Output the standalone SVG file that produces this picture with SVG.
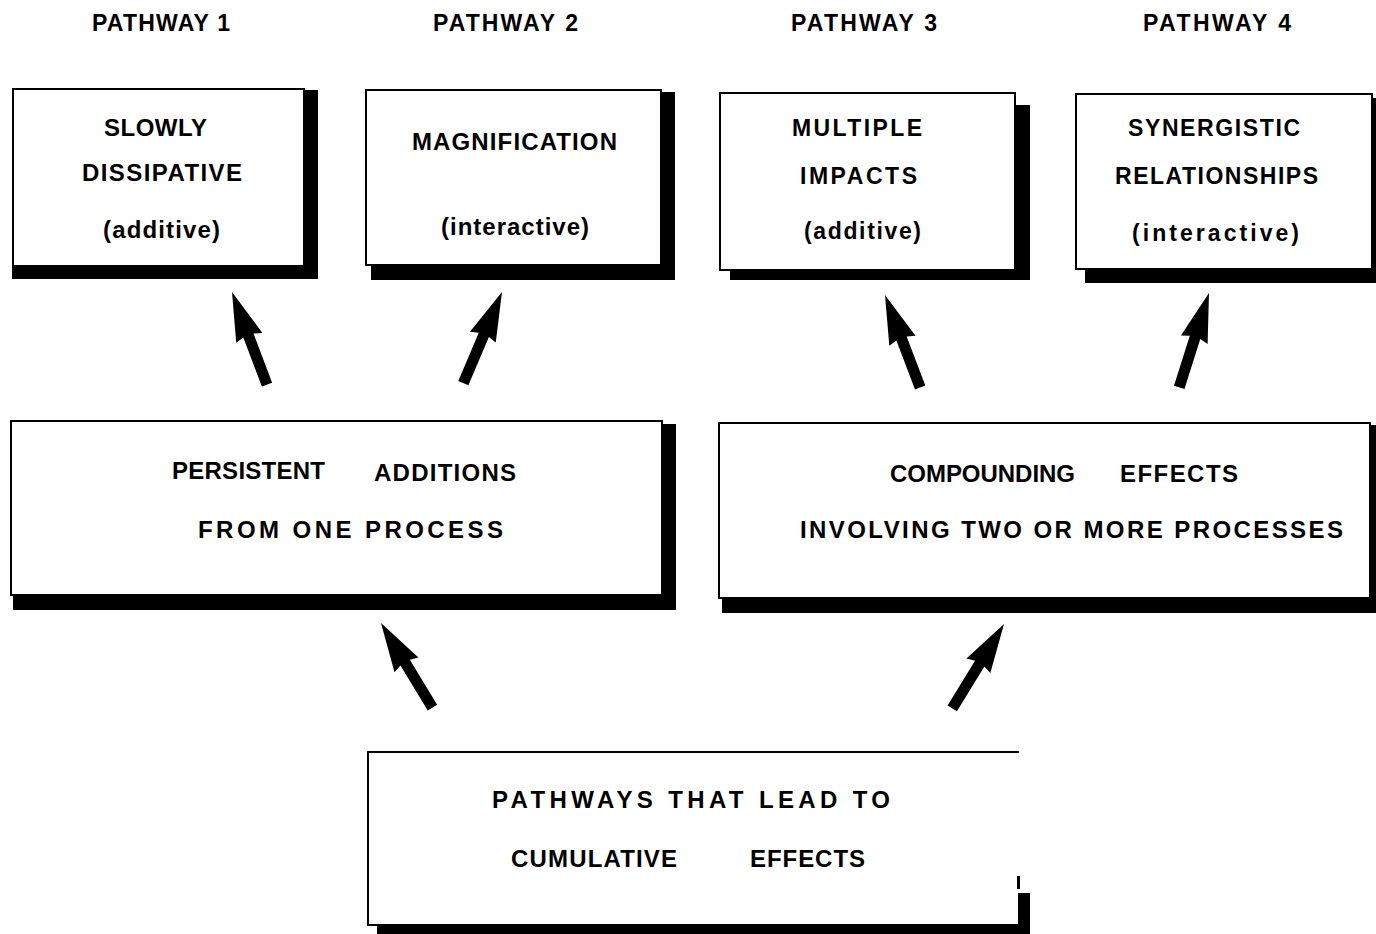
<svg xmlns="http://www.w3.org/2000/svg" xmlns:xlink="http://www.w3.org/1999/xlink" width="1376" height="934" viewBox="0 0 1376 934">
<style>
.t{font-family:"Liberation Sans",Arial,Helvetica,sans-serif;font-weight:bold;font-size:24px;fill:#000}
.h{font-size:23px}
.s{font-size:23px}
.box{fill:#fff;stroke:#000;stroke-width:2}
.sh{fill:#000}
.arr{fill:#000}
</style>
<defs>
<path id="arrow" d="M0,0 L14,49 L5.5,46.5 L5.5,99 L-5.5,99 L-5.5,46.5 L-14,49 Z"/>
</defs>
<rect width="1376" height="934" fill="#fff"/>

<g id="headers">
<text class="t h" x="92" y="31" textLength="138" lengthAdjust="spacing">PATHWAY 1</text>
<text class="t h" x="433" y="31" textLength="145" lengthAdjust="spacing">PATHWAY 2</text>
<text class="t h" x="791" y="31" textLength="146" lengthAdjust="spacing">PATHWAY 3</text>
<text class="t h" x="1143" y="31" textLength="148" lengthAdjust="spacing">PATHWAY 4</text>
</g>

<g id="slowly-dissipative">
<rect class="sh" x="12" y="90" width="306" height="189"/>
<rect class="box" x="13" y="89" width="291" height="177"/>
<text class="t" x="104" y="136" textLength="103" lengthAdjust="spacing">SLOWLY</text>
<text class="t" x="82" y="181" textLength="160" lengthAdjust="spacing">DISSIPATIVE</text>
<text class="t" x="103" y="238" textLength="117" lengthAdjust="spacing">(additive)</text>
</g>

<g id="magnification">
<rect class="sh" x="371" y="92" width="304" height="188"/>
<rect class="box" x="366" y="90" width="295" height="175"/>
<text class="t" x="412" y="150" textLength="205" lengthAdjust="spacing">MAGNIFICATION</text>
<text class="t" x="441" y="235" textLength="148" lengthAdjust="spacing">(interactive)</text>
</g>

<g id="multiple-impacts">
<rect class="sh" x="730" y="105" width="300" height="175"/>
<rect class="box" x="720" y="93" width="295" height="177"/>
<text class="t s" x="792" y="136" textLength="130" lengthAdjust="spacing">MULTIPLE</text>
<text class="t s" x="800" y="184" textLength="117" lengthAdjust="spacing">IMPACTS</text>
<text class="t s" x="804" y="239" textLength="117" lengthAdjust="spacing">(additive)</text>
</g>

<g id="synergistic-relationships">
<rect class="sh" x="1085" y="98" width="295" height="185"/>
<rect class="box" x="1076" y="94" width="296" height="175"/>
<text class="t s" x="1128" y="136" textLength="172" lengthAdjust="spacing">SYNERGISTIC</text>
<text class="t s" x="1115" y="184" textLength="203" lengthAdjust="spacing">RELATIONSHIPS</text>
<text class="t s" x="1132" y="241" textLength="167" lengthAdjust="spacing">(interactive)</text>
</g>

<g id="persistent-additions">
<rect class="sh" x="13" y="424" width="663" height="186"/>
<rect class="box" x="11" y="421" width="651" height="174"/>
<text class="t" x="172" y="479" textLength="153" lengthAdjust="spacing">PERSISTENT</text>
<text class="t" x="374" y="481" textLength="142" lengthAdjust="spacing">ADDITIONS</text>
<text class="t" x="198" y="538" textLength="305" lengthAdjust="spacing">FROM ONE PROCESS</text>
</g>

<g id="compounding-effects">
<rect class="sh" x="722" y="425" width="660" height="188"/>
<rect class="box" x="719" y="423" width="651" height="175"/>
<text class="t" x="890" y="482" textLength="185" lengthAdjust="spacing">COMPOUNDING</text>
<text class="t" x="1120" y="482" textLength="118" lengthAdjust="spacing">EFFECTS</text>
<text class="t" x="800" y="538" textLength="543" lengthAdjust="spacing">INVOLVING TWO OR MORE PROCESSES</text>
</g>

<g id="cumulative-effects">
<rect x="368" y="752" width="651" height="173" fill="#fff"/>
<path d="M1019,752 H368 V925 H1019" fill="none" stroke="#000" stroke-width="2"/>
<rect class="sh" x="377" y="925" width="653" height="9"/>
<rect class="sh" x="1018" y="893" width="12" height="41"/>
<rect class="sh" x="1017" y="876" width="3" height="13"/>
<text class="t" x="492" y="808" textLength="398" lengthAdjust="spacing">PATHWAYS THAT LEAD TO</text>
<text class="t" x="511" y="867" textLength="166" lengthAdjust="spacing">CUMULATIVE</text>
<text class="t" x="750" y="867" textLength="115" lengthAdjust="spacing">EFFECTS</text>
</g>

<g id="connectors" class="arr">
<use xlink:href="#arrow" href="#arrow" transform="translate(232,292) rotate(-20.7)"/>
<use xlink:href="#arrow" href="#arrow" transform="translate(502,292) rotate(23)"/>
<use xlink:href="#arrow" href="#arrow" transform="translate(885,295) rotate(-20.8)"/>
<use xlink:href="#arrow" href="#arrow" transform="translate(1209,293) rotate(17.5)"/>
<use xlink:href="#arrow" href="#arrow" transform="translate(381,623) rotate(-31.3)"/>
<use xlink:href="#arrow" href="#arrow" transform="translate(1004,624) rotate(31.5)"/>
</g>
</svg>
